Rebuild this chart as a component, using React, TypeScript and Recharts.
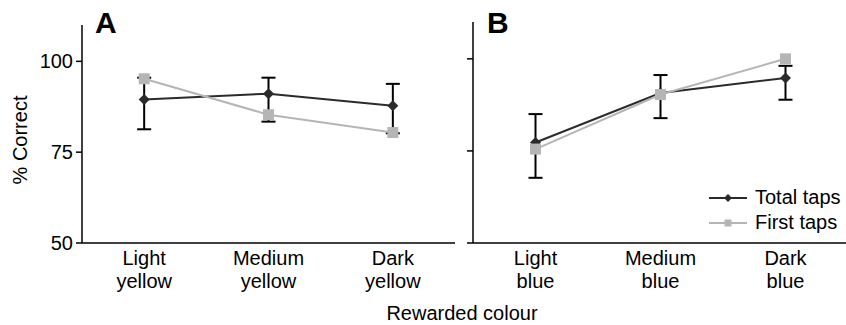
import React from 'react';
import { LineChart, Line, XAxis, YAxis, ErrorBar, Legend } from 'recharts';

const FONT = '"Liberation Sans", Arial, Helvetica, sans-serif';

// Panel A - yellow rewards
const coloursA = ['Light yellow', 'Medium yellow', 'Dark yellow'];
const totalTapsA = [89.5, 91.1, 87.8];
const totalErrA = [[8.2, 6.0], [7.7, 4.4], [7.6, 6.0]]; // [below, above]
const firstTapsA = [95.2, 85.3, 80.4];

// Panel B - blue rewards
const coloursB = ['Light blue', 'Medium blue', 'Dark blue'];
const totalTapsB = [77.3, 90.7, 94.8];
const totalErrB = [[9.6, 7.7], [6.8, 4.9], [5.9, 3.3]];
const firstTapsB = [75.5, 90.3, 100.0];

const yTicks = [50, 75, 100];
const yDomain = [50, 110];
const edgeTicks = [0, 1, 2, 3];
const legendOrder = ['total', 'first'];

const DARK = '#2b2b2b';
const LIGHT = '#b5b5b5';

const build = (cats: string[], total: number[], err: number[][], first: number[]) =>
  cats.map((c, i) => ({ colour: c, total: total[i], err: err[i], first: first[i] }));

const dataA = build(coloursA, totalTapsA, totalErrA, firstTapsA);
const dataB = build(coloursB, totalTapsB, totalErrB, firstTapsB);

function Diamond({ cx, cy, r, fill }: { cx: number; cy: number; r: number; fill: string }) {
  return <polygon points={`${cx},${cy - r} ${cx + r},${cy} ${cx},${cy + r} ${cx - r},${cy}`} fill={fill} />;
}

function Square({ cx, cy, s, fill }: { cx: number; cy: number; s: number; fill: string }) {
  return <rect x={cx - s / 2} y={cy - s / 2} width={s} height={s} fill={fill} />;
}

function CategoryTick(props: any) {
  const { x, y, payload } = props;
  const [a, b] = String(payload.value).split(' ');
  return (
    <text x={x} y={y} textAnchor="middle" fill="#000" fontSize={20} fontFamily={FONT}>
      <tspan x={x} dy={22}>{a}</tspan>
      <tspan x={x} dy={23}>{b}</tspan>
    </text>
  );
}

function LegendContent(props: any) {
  const items = [...(props.payload || [])].sort(
    (p: any, q: any) => legendOrder.indexOf(p.dataKey) - legendOrder.indexOf(q.dataKey)
  );
  return (
    <div style={{ fontFamily: FONT, fontSize: 20, color: '#000' }}>
      {items.map((it: any) => (
        <div key={it.value} style={{ display: 'flex', alignItems: 'center', height: 25 }}>
          <svg width={38} height={12} style={{ marginRight: 8 }}>
            <line x1={0} y1={6} x2={38} y2={6} stroke={it.color} strokeWidth={2} />
            {it.dataKey === 'total'
              ? <Diamond cx={19} cy={6} r={4} fill={DARK} />
              : <Square cx={19} cy={6} s={7} fill={LIGHT} />}
          </svg>
          <span>{it.value}</span>
        </div>
      ))}
    </div>
  );
}

interface PanelProps {
  data: any[];
  width: number;
  yAxisWidth: number;
  marginTop: number;
  marginRight: number;
  showYLabels: boolean;
  showLegend: boolean;
}

function Panel({ data, width, yAxisWidth, marginTop, marginRight, showYLabels, showLegend }: PanelProps) {
  return (
    <LineChart
      width={width}
      height={325}
      data={data}
      margin={{ top: marginTop, right: marginRight, left: 0, bottom: 22 }}
      style={{ fontFamily: FONT }}
    >
      {/* boundary ticks between categories */}
      <XAxis
        xAxisId="edge"
        type="number"
        domain={[0, 3]}
        ticks={edgeTicks}
        allowDataOverflow
        height={0}
        axisLine={false}
        tickLine={{ stroke: '#000', strokeWidth: 1.5 }}
        tickSize={9}
        tickFormatter={() => ''}
        interval={0}
      />
      <XAxis
        xAxisId="cat"
        dataKey="colour"
        type="category"
        scale="band"
        height={60}
        axisLine={{ stroke: '#000', strokeWidth: 1.5 }}
        tickLine={false}
        tickSize={0}
        tickMargin={0}
        tick={<CategoryTick />}
        interval={0}
      />
      <YAxis
        type="number"
        domain={yDomain}
        ticks={yTicks}
        allowDataOverflow
        interval={0}
        width={yAxisWidth}
        axisLine={{ stroke: '#000', strokeWidth: 1.5 }}
        tickLine={{ stroke: '#000', strokeWidth: 1.5 }}
        tickSize={6}
        tickMargin={3}
        tick={{ fill: '#000', fontSize: 20, fontFamily: FONT }}
        tickFormatter={showYLabels ? undefined : () => ''}
      />
      <Line
        xAxisId="cat"
        dataKey="total"
        name="Total taps"
        stroke={DARK}
        strokeWidth={2}
        isAnimationActive={false}
        dot={(p: any) => <Diamond key={`d${p.index}`} cx={p.cx} cy={p.cy} r={5.5} fill={DARK} />}
      >
        <ErrorBar dataKey="err" direction="y" width={7} stroke="#000" strokeWidth={2} isAnimationActive={false} />
      </Line>
      <Line
        xAxisId="cat"
        dataKey="first"
        name="First taps"
        stroke={LIGHT}
        strokeWidth={2}
        isAnimationActive={false}
        dot={(p: any) => <Square key={`s${p.index}`} cx={p.cx} cy={p.cy} s={11} fill={LIGHT} />}
      />
      {showLegend && (
        <Legend
          layout="horizontal"
          verticalAlign="middle"
          align="center"
          content={<LegendContent />}
          wrapperStyle={{ position: 'absolute', top: 185, left: 286, width: 150 }}
        />
      )}
    </LineChart>
  );
}

export default function App() {
  return (
    <div style={{ position: 'absolute', left: 0, top: 0, width: 846, height: 325, overflow: 'hidden', background: '#fff', fontFamily: FONT, color: '#000' }}>
      <div style={{ position: 'absolute', left: 0, top: 0 }}>
        <Panel data={dataA} width={460} yAxisWidth={82} marginTop={25} marginRight={5} showYLabels showLegend={false} />
      </div>
      <div style={{ position: 'absolute', left: 423, top: 0 }}>
        <Panel data={dataB} width={425} yAxisWidth={50} marginTop={22} marginRight={0} showYLabels={false} showLegend />
      </div>
      <div style={{ position: 'absolute', left: 95, top: 8, fontSize: 30, lineHeight: '30px', fontWeight: 'bold' }}>A</div>
      <div style={{ position: 'absolute', left: 487, top: 8, fontSize: 30, lineHeight: '30px', fontWeight: 'bold' }}>B</div>
      <div style={{ position: 'absolute', left: 20, top: 140, fontSize: 20, whiteSpace: 'nowrap', transform: 'translate(-50%, -50%) rotate(-90deg)' }}>% Correct</div>
      <div style={{ position: 'absolute', left: 462, top: 303, fontSize: 20, lineHeight: '20px', whiteSpace: 'nowrap', transform: 'translateX(-50%)' }}>Rewarded colour</div>
    </div>
  );
}
